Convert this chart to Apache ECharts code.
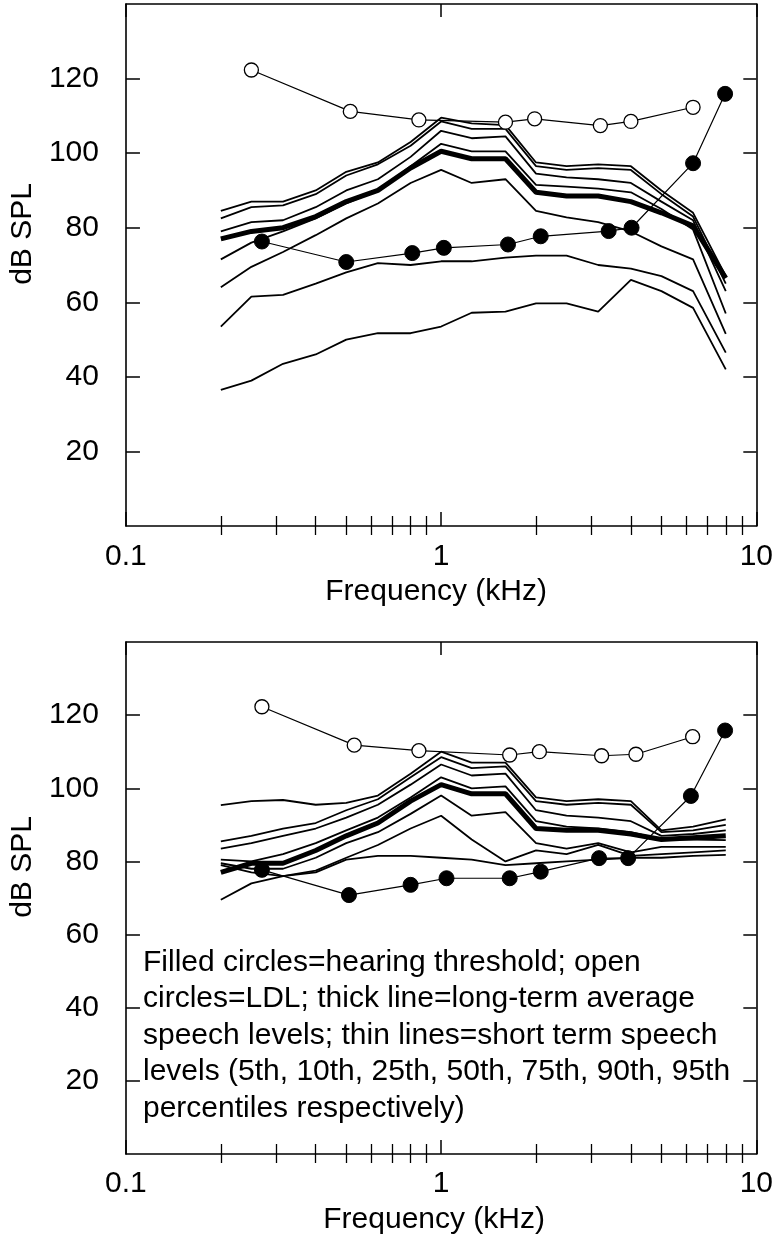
<!DOCTYPE html>
<html><head><meta charset="utf-8">
<script src="https://cdn.jsdelivr.net/npm/echarts@6/dist/echarts.min.js"></script>
<style>html,body{margin:0;padding:0;background:#fff}#c{width:776px;height:1237px}</style>
</head><body><div id="c"></div>
<script>
// shared frequency grid (kHz) for speech-level curves
const freqs = [0.2,0.25,0.315,0.4,0.5,0.63,0.8,1,1.25,1.6,2,2.5,3.15,4,5,6.3,8];
const xTickLabels = [0.1, 1, 10];
const xMinorTicks = [0.2,0.3,0.4,0.5,0.6,0.7,0.8,0.9,2,3,4,5,6,7,8,9];
const yTickLabels = [20,40,60,80,100,120];

// ---- top panel ----
const topP95  = [84.5,87,87,90,95,97.5,103,109.5,108,107.5,97.5,96.5,97,96.5,90,84,67];
const topP90  = [82.5,85.5,86,89,94,97,102,108.5,106.5,106.5,96.5,95.5,96,95.5,89,83,65];
const topP75  = [79,81.5,82,85.5,90,93,99,106,104,104.5,94.5,93.5,93,92,87,82,63];
const topP50  = [71.5,76,79,82.5,86.5,90,96.5,102.5,100.5,100.5,91.5,91,90.5,89.5,85,79.5,57];
const topLtass= [77,79,80,83,87,90,96,100.5,98.5,98.5,89.5,88.5,88.5,87,84,80.5,66.5];
const topP25  = [64,69.5,73.5,78,82.5,86.5,92,95.5,92,93,84.5,82.8,81.5,79,75,71.5,51.5];
const topP10  = [53.5,61.5,62,65,68,70.5,70,71,71,72,72.5,72.5,70,69,67,63,46.5];
const topP5   = [36.5,39,43.5,46,50,51.7,51.7,53.5,57.2,57.5,59.7,59.7,57.5,66,63,58.5,42];
const topThreshFreq = [0.27,0.5,0.81,1.02,1.63,2.07,3.4,4.02,6.3,7.96];
const topThresh     = [76.3,70.8,73.2,74.6,75.5,77.7,79.1,80.0,97.3,115.9];
const topLdlFreq    = [0.25,0.515,0.85,1.6,1.98,3.2,4.0,6.3];
const topLdl        = [122.3,111.2,108.9,108.3,109.2,107.4,108.5,112.3];

// ---- bottom panel ----
const botP95  = [95.4,96.5,96.8,95.5,96,98,104,110,107,107,97.5,96.5,97,96.5,88.5,89.5,91.5];
const botP90  = [85.5,87,89,90.5,94,97,103,108.5,105.5,106,96.5,95.5,96,95.5,88,88.5,90];
const botP75  = [83.5,85,87,89,92,95.5,101,106.5,103.5,104,94,92.5,92,91,87,87.5,88.5];
const botP50  = [80.5,80,82,85,88.5,92,97.5,103,100,100.5,91,89.5,89,88,86,86,85.8];
const botLtass= [77,79.5,79.5,83,87,90.5,96.5,101,98.5,98.5,89,88.5,88.5,87.5,86,86.5,87];
const botP25  = [79.5,78,78,81,85,88,93,98,92.5,93.5,85,83.5,85,82.5,84,84,84];
const botP10  = [79,77,76,77.5,81,84.5,89,92.5,86,80,83,82,84.5,81.5,82,82.5,83];
const botP5   = [69.5,74,76,77,80.5,81.5,81.5,81,80.5,79,79.5,80,80.5,81,81,81.5,81.8];
const botThreshFreq = [0.27,0.51,0.8,1.04,1.65,2.07,3.17,3.92,6.2,7.96];
const botThresh     = [77.7,70.8,73.6,75.4,75.4,77.2,80.9,80.9,97.9,115.8];
const botLdlFreq    = [0.27,0.53,0.85,1.65,2.05,3.23,4.15,6.28];
const botLdl        = [122.3,111.8,110.3,109.1,110,108.9,109.3,114.1];

const noteLines = [
  'Filled circles=hearing threshold; open',
  'circles=LDL; thick line=long-term average',
  'speech levels; thin lines=short term speech',
  'levels (5th, 10th, 25th, 50th, 75th, 90th, 95th',
  'percentiles respectively)'
];

const FONT = '"Liberation Sans", Arial, sans-serif';
const BLACK = '#000';

function xAxes(grid, labelMargin, nameGap, namePadRight) {
  const base = {type:'log', logBase:10, min:0.1, max:10, gridIndex:grid, splitLine:{show:false}};
  return [
    Object.assign({}, base, {position:'bottom',
      axisLine:{show:true, onZero:false, lineStyle:{color:BLACK, width:1.6}},
      axisTick:{show:true, inside:true, length:14, lineStyle:{color:BLACK, width:1.5}},
      axisLabel:{show:true, margin:labelMargin, fontSize:30, color:BLACK, fontFamily:FONT,
        customValues:xTickLabels, formatter:v=>String(v)},
      name:'Frequency (kHz)', nameLocation:'middle', nameGap:nameGap,
      nameTextStyle:{fontSize:30, color:BLACK, fontFamily:FONT, padding:[0,namePadRight,0,0]}}),
    Object.assign({}, base, {position:'bottom',
      axisLine:{show:false}, axisLabel:{show:false},
      axisTick:{show:true, inside:true, length:10, customValues:xMinorTicks, lineStyle:{color:BLACK, width:1.3}}}),
    Object.assign({}, base, {position:'top',
      axisLine:{show:true, onZero:false, lineStyle:{color:BLACK, width:1.6}},
      axisTick:{show:true, inside:true, length:13, lineStyle:{color:BLACK, width:1.5}},
      axisLabel:{show:false}}),
    Object.assign({}, base, {position:'top',
      axisLine:{show:false}, axisLabel:{show:false},
      axisTick:{show:true, inside:true, length:9, customValues:xMinorTicks, lineStyle:{color:BLACK, width:1.3}}})
  ];
}
function yAxes(grid) {
  return [
    {type:'value', gridIndex:grid, min:0, max:140, interval:20, position:'left',
      splitLine:{show:false},
      axisLine:{show:true, onZero:false, lineStyle:{color:BLACK, width:1.6}},
      axisTick:{show:true, inside:true, length:14, customValues:yTickLabels, lineStyle:{color:BLACK, width:1.5}},
      axisLabel:{margin:27, fontSize:30, color:BLACK, fontFamily:FONT, customValues:yTickLabels},
      name:'dB SPL', nameLocation:'middle', nameGap:68,
      nameTextStyle:{fontSize:30, color:BLACK, fontFamily:FONT, padding:[0,0,0,62]}},
    {type:'value', gridIndex:grid, min:0, max:140, interval:20, position:'right',
      splitLine:{show:false},
      axisLine:{show:true, onZero:false, lineStyle:{color:BLACK, width:1.6}},
      axisTick:{show:true, inside:true, length:13, customValues:yTickLabels, lineStyle:{color:BLACK, width:1.5}},
      axisLabel:{show:false}}
  ];
}

function curve(arr, xi, yi, w) {
  return {type:'line', xAxisIndex:xi, yAxisIndex:yi, silent:true, showSymbol:false, symbol:'none',
    data: freqs.map((f,i)=>[f, arr[i]]), lineStyle:{color:BLACK, width:w}, z:2};
}
function markers(fx, vals, xi, yi, filled) {
  return {type:'line', xAxisIndex:xi, yAxisIndex:yi, silent:true, symbol:'circle',
    symbolSize: filled ? 15 : 14, showSymbol:true,
    data: fx.map((f,i)=>[f, vals[i]]),
    lineStyle:{color:BLACK, width:1.2},
    itemStyle: filled ? {color:BLACK, borderColor:BLACK, borderWidth:1}
                      : {color:'#fff', borderColor:BLACK, borderWidth:1.3},
    z:5};
}

const series = [];
[[topP95,topP90,topP75,topP50,topP25,topP10,topP5, topLtass, topThreshFreq, topThresh, topLdlFreq, topLdl, 0, 0],
 [botP95,botP90,botP75,botP50,botP25,botP10,botP5, botLtass, botThreshFreq, botThresh, botLdlFreq, botLdl, 4, 2]]
.forEach(p => {
  const xi = p[12], yi = p[13];
  for (let k=0;k<7;k++) series.push(curve(p[k], xi, yi, 1.8));
  series.push(curve(p[7], xi, yi, 5));
  series.push(markers(p[10], p[11], xi, yi, false));
  series.push(markers(p[8], p[9], xi, yi, true));
});

const chart = echarts.init(document.getElementById('c'), null, {renderer:'canvas'});
chart.setOption({
  animation:false,
  backgroundColor:'#fff',
  grid:[
    {left:111, top:4, width:651, height:522},
    {left:109, top:642, width:651, height:512}
  ],
  xAxis:[...xAxes(0,16,51,10), ...xAxes(1,15,51,14)],
  yAxis:[...yAxes(0), ...yAxes(1)],
  series: series,
  graphic:[{type:'text', left:143, top:944, silent:true,
    style:{text:noteLines.join('\n'), fontSize:30, lineHeight:36.5, fill:BLACK, fontFamily:FONT}}]
});
</script></body></html>
